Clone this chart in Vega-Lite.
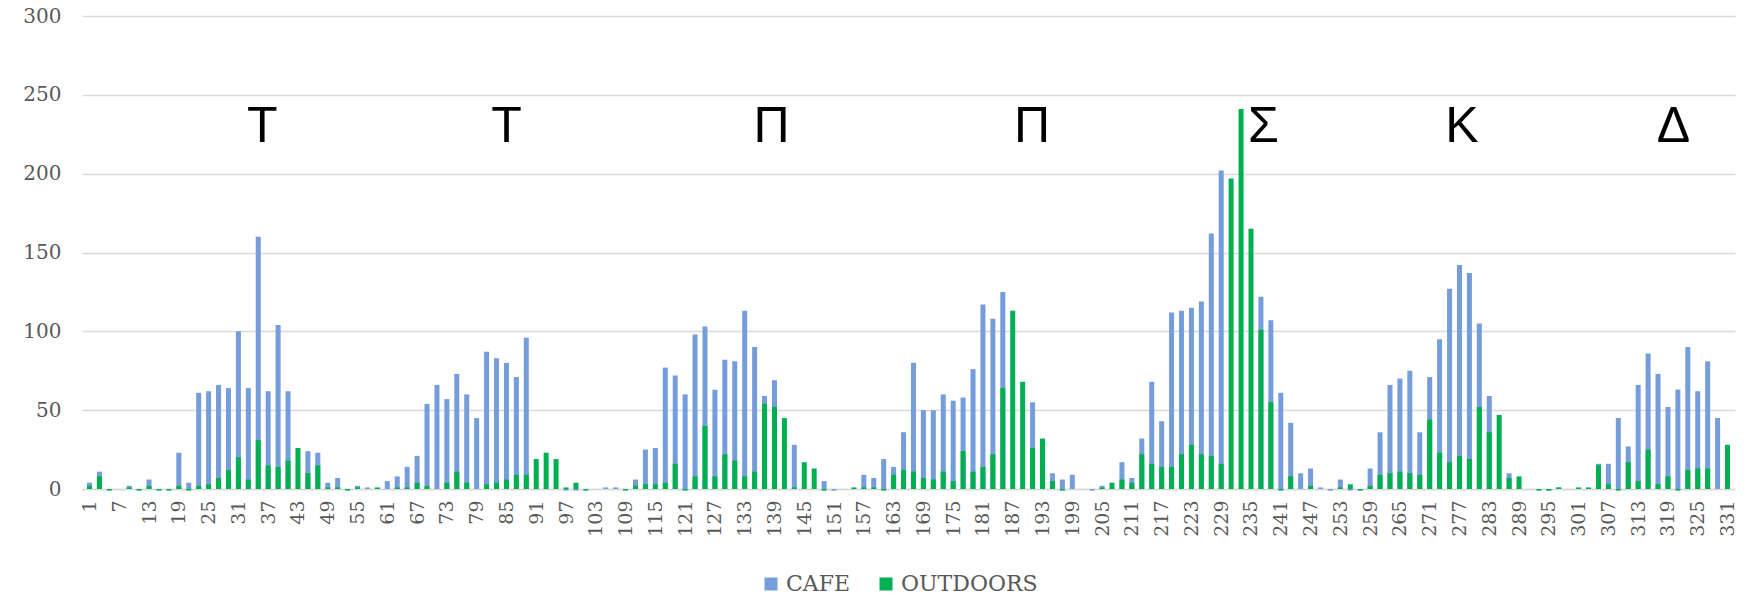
{
  "$schema": "https://vega.github.io/schema/vega-lite/v6.json",
  "width": 1653,
  "height": 473,
  "autosize": {"type": "none"},
  "padding": {"left": 82, "top": 16, "right": 17, "bottom": 107},
  "background": "white",
  "config": {
    "view": {"stroke": null},
    "font": "DejaVu Serif",
    "axis": {"labelOverlap": false}
  },
  "datasets": {
    "counts": [
      {"d":1,"cafe":4,"outdoors":2},{"d":3,"cafe":11,"outdoors":8},{"d":5,"cafe":0,"outdoors":-1},{"d":7,"cafe":0,"outdoors":0},
      {"d":9,"cafe":2,"outdoors":1},{"d":11,"cafe":0,"outdoors":-1},{"d":13,"cafe":6,"outdoors":2},{"d":15,"cafe":0,"outdoors":-1},
      {"d":17,"cafe":0,"outdoors":-1},{"d":19,"cafe":23,"outdoors":2},{"d":21,"cafe":4,"outdoors":-1},{"d":23,"cafe":61,"outdoors":2},
      {"d":25,"cafe":62,"outdoors":3},{"d":27,"cafe":66,"outdoors":7},{"d":29,"cafe":64,"outdoors":12},{"d":31,"cafe":100,"outdoors":20},
      {"d":33,"cafe":64,"outdoors":6},{"d":35,"cafe":160,"outdoors":31},{"d":37,"cafe":62,"outdoors":15},{"d":39,"cafe":104,"outdoors":14},
      {"d":41,"cafe":62,"outdoors":18},{"d":43,"cafe":0,"outdoors":26},{"d":45,"cafe":24,"outdoors":10},{"d":47,"cafe":23,"outdoors":15},
      {"d":49,"cafe":4,"outdoors":1},{"d":51,"cafe":7,"outdoors":1},{"d":53,"cafe":0,"outdoors":-1},{"d":55,"cafe":2,"outdoors":1},
      {"d":57,"cafe":1,"outdoors":0},{"d":59,"cafe":0,"outdoors":1},{"d":61,"cafe":5,"outdoors":0},{"d":63,"cafe":8,"outdoors":1},
      {"d":65,"cafe":14,"outdoors":1},{"d":67,"cafe":21,"outdoors":4},{"d":69,"cafe":54,"outdoors":2},{"d":71,"cafe":66,"outdoors":0},
      {"d":73,"cafe":57,"outdoors":4},{"d":75,"cafe":73,"outdoors":11},{"d":77,"cafe":60,"outdoors":4},{"d":79,"cafe":45,"outdoors":0},
      {"d":81,"cafe":87,"outdoors":3},{"d":83,"cafe":83,"outdoors":4},{"d":85,"cafe":80,"outdoors":6},{"d":87,"cafe":71,"outdoors":9},
      {"d":89,"cafe":96,"outdoors":9},{"d":91,"cafe":0,"outdoors":19},{"d":93,"cafe":0,"outdoors":23},{"d":95,"cafe":0,"outdoors":19},
      {"d":97,"cafe":-1,"outdoors":1},{"d":99,"cafe":-1,"outdoors":4},{"d":101,"cafe":0,"outdoors":-1},{"d":103,"cafe":0,"outdoors":0},
      {"d":105,"cafe":1,"outdoors":0},{"d":107,"cafe":1,"outdoors":0},{"d":109,"cafe":0,"outdoors":-1},{"d":111,"cafe":6,"outdoors":2},
      {"d":113,"cafe":25,"outdoors":3},{"d":115,"cafe":26,"outdoors":3},{"d":117,"cafe":77,"outdoors":4},{"d":119,"cafe":72,"outdoors":16},
      {"d":121,"cafe":60,"outdoors":-1},{"d":123,"cafe":98,"outdoors":8},{"d":125,"cafe":103,"outdoors":40},{"d":127,"cafe":63,"outdoors":8},
      {"d":129,"cafe":82,"outdoors":22},{"d":131,"cafe":81,"outdoors":18},{"d":133,"cafe":113,"outdoors":8},{"d":135,"cafe":90,"outdoors":11},
      {"d":137,"cafe":59,"outdoors":54},{"d":139,"cafe":69,"outdoors":52},{"d":141,"cafe":0,"outdoors":45},{"d":143,"cafe":28,"outdoors":1},
      {"d":145,"cafe":0,"outdoors":17},{"d":147,"cafe":0,"outdoors":13},{"d":149,"cafe":5,"outdoors":-1},{"d":151,"cafe":-1,"outdoors":0},
      {"d":153,"cafe":0,"outdoors":0},{"d":155,"cafe":0,"outdoors":1},{"d":157,"cafe":9,"outdoors":1},{"d":159,"cafe":7,"outdoors":1},
      {"d":161,"cafe":19,"outdoors":-1},{"d":163,"cafe":14,"outdoors":9},{"d":165,"cafe":36,"outdoors":12},{"d":167,"cafe":80,"outdoors":11},
      {"d":169,"cafe":50,"outdoors":7},{"d":171,"cafe":50,"outdoors":6},{"d":173,"cafe":60,"outdoors":11},{"d":175,"cafe":56,"outdoors":5},
      {"d":177,"cafe":58,"outdoors":24},{"d":179,"cafe":76,"outdoors":11},{"d":181,"cafe":117,"outdoors":14},{"d":183,"cafe":108,"outdoors":22},
      {"d":185,"cafe":125,"outdoors":64},{"d":187,"cafe":0,"outdoors":113},{"d":189,"cafe":0,"outdoors":68},{"d":191,"cafe":55,"outdoors":26},
      {"d":193,"cafe":0,"outdoors":32},{"d":195,"cafe":10,"outdoors":5},{"d":197,"cafe":6,"outdoors":-1},{"d":199,"cafe":9,"outdoors":0},
      {"d":201,"cafe":0,"outdoors":0},{"d":203,"cafe":-1,"outdoors":0},{"d":205,"cafe":2,"outdoors":1},{"d":207,"cafe":0,"outdoors":4},
      {"d":209,"cafe":17,"outdoors":6},{"d":211,"cafe":7,"outdoors":4},{"d":213,"cafe":32,"outdoors":22},{"d":215,"cafe":68,"outdoors":16},
      {"d":217,"cafe":43,"outdoors":14},{"d":219,"cafe":112,"outdoors":14},{"d":221,"cafe":113,"outdoors":22},{"d":223,"cafe":115,"outdoors":28},
      {"d":225,"cafe":119,"outdoors":22},{"d":227,"cafe":162,"outdoors":21},{"d":229,"cafe":202,"outdoors":16},{"d":231,"cafe":0,"outdoors":197},
      {"d":233,"cafe":0,"outdoors":241},{"d":235,"cafe":0,"outdoors":165},{"d":237,"cafe":122,"outdoors":101},{"d":239,"cafe":107,"outdoors":55},
      {"d":241,"cafe":61,"outdoors":-1},{"d":243,"cafe":42,"outdoors":8},{"d":245,"cafe":10,"outdoors":0},{"d":247,"cafe":13,"outdoors":2},
      {"d":249,"cafe":1,"outdoors":0},{"d":251,"cafe":-1,"outdoors":0},{"d":253,"cafe":6,"outdoors":1},{"d":255,"cafe":-1,"outdoors":3},
      {"d":257,"cafe":0,"outdoors":-1},{"d":259,"cafe":13,"outdoors":2},{"d":261,"cafe":36,"outdoors":9},{"d":263,"cafe":66,"outdoors":10},
      {"d":265,"cafe":70,"outdoors":11},{"d":267,"cafe":75,"outdoors":10},{"d":269,"cafe":36,"outdoors":9},{"d":271,"cafe":71,"outdoors":44},
      {"d":273,"cafe":95,"outdoors":23},{"d":275,"cafe":127,"outdoors":17},{"d":277,"cafe":142,"outdoors":21},{"d":279,"cafe":137,"outdoors":19},
      {"d":281,"cafe":105,"outdoors":52},{"d":283,"cafe":59,"outdoors":36},{"d":285,"cafe":0,"outdoors":47},{"d":287,"cafe":10,"outdoors":7},
      {"d":289,"cafe":0,"outdoors":8},{"d":291,"cafe":0,"outdoors":0},{"d":293,"cafe":0,"outdoors":-1},{"d":295,"cafe":-1,"outdoors":-1},
      {"d":297,"cafe":1,"outdoors":1},{"d":299,"cafe":0,"outdoors":0},{"d":301,"cafe":0,"outdoors":1},{"d":303,"cafe":0,"outdoors":1},
      {"d":305,"cafe":16,"outdoors":15},{"d":307,"cafe":16,"outdoors":3},{"d":309,"cafe":45,"outdoors":-1},{"d":311,"cafe":27,"outdoors":17},
      {"d":313,"cafe":66,"outdoors":5},{"d":315,"cafe":86,"outdoors":25},{"d":317,"cafe":73,"outdoors":3},{"d":319,"cafe":52,"outdoors":8},
      {"d":321,"cafe":63,"outdoors":-1},{"d":323,"cafe":90,"outdoors":12},{"d":325,"cafe":62,"outdoors":13},{"d":327,"cafe":81,"outdoors":13},
      {"d":329,"cafe":45,"outdoors":0},{"d":331,"cafe":0,"outdoors":28}
    ],
    "days": [
      {"d":35.8,"y":220,"t":"Τ"},{"d":85,"y":220,"t":"Τ"},{"d":138.4,"y":220,"t":"Π"},{"d":190.9,"y":220,"t":"Π"},
      {"d":237.5,"y":220,"t":"Σ"},{"d":277.5,"y":220,"t":"Κ"},{"d":320.1,"y":220,"t":"Δ"}
    ]
  },
  "layer": [
    {
      "data": {"name": "counts"},
      "mark": {"type": "bar", "width": 5},
      "encoding": {
        "x": {
          "field": "d", "type": "quantitative", "title": null,
          "scale": {"domain": [0.5, 331.5], "nice": false, "zero": false},
          "axis": {
            "values": [1,7,13,19,25,31,37,43,49,55,61,67,73,79,85,91,97,103,109,115,121,127,133,139,145,151,157,163,169,175,181,187,193,199,205,211,217,223,229,235,241,247,253,259,265,271,277,283,289,295,301,307,313,319,325,331],
            "tickCount": 80,
            "labelAngle": -90, "labelFontSize": 19, "labelColor": "#595959", "labelFont": "DejaVu Serif",
            "labelPadding": 11, "ticks": false, "tickSize": 0, "grid": false,
            "domainColor": "#D9D9D9", "domainWidth": 1.5, "labelOverlap": false, "labelFlush": false, "labelBound": false
          }
        },
        "y": {
          "field": "cafe", "type": "quantitative", "title": null,
          "scale": {"domain": [0, 300], "nice": false},
          "axis": {
            "values": [0,50,100,150,200,250,300],
            "tickCount": 10,
            "labelFontSize": 20, "labelColor": "#595959", "labelFont": "DejaVu Serif",
            "labelPadding": 21, "ticks": false, "tickSize": 0, "domain": false,
            "grid": true, "gridColor": "#D9D9D9", "gridWidth": 1.3
          }
        },
        "color": {
          "datum": "CAFE", "type": "nominal",
          "scale": {"domain": ["CAFE", "OUTDOORS"], "range": ["#759CDB", "#00B050"]},
          "legend": {
            "title": null, "orient": "none", "direction": "horizontal",
            "legendX": 678, "legendY": 557, "padding": 0,
            "symbolType": "square", "symbolSize": 169, "symbolStrokeWidth": 0,
            "labelFontSize": 22, "labelColor": "#595959", "labelFont": "DejaVu Serif",
            "labelOffset": 4, "columnPadding": 24
          }
        }
      }
    },
    {
      "data": {"name": "counts"},
      "mark": {"type": "bar", "width": 5},
      "encoding": {
        "x": {"field": "d", "type": "quantitative", "title": null},
        "y": {"field": "outdoors", "type": "quantitative", "title": null},
        "color": {"datum": "OUTDOORS", "type": "nominal"}
      }
    },
    {
      "data": {"name": "days"},
      "mark": {"type": "text", "font": "Liberation Sans", "fontSize": 50, "baseline": "alphabetic", "align": "center", "color": "black"},
      "encoding": {
        "x": {"field": "d", "type": "quantitative", "title": null},
        "y": {"field": "y", "type": "quantitative", "title": null},
        "text": {"field": "t"}
      }
    }
  ]
}
